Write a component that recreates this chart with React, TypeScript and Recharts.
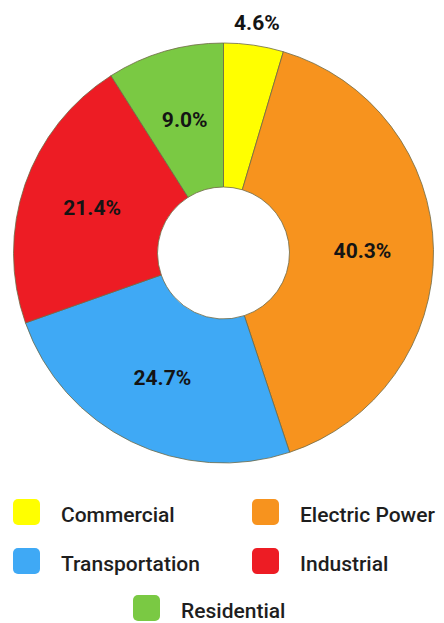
import { PieChart, Pie, Cell, Legend } from "recharts";

const SECTORS = ["Commercial", "Electric Power", "Transportation", "Industrial", "Residential"];
const SHARES = [4.6, 40.3, 24.7, 21.4, 9.0];
const COLORS = ["#FFFF00", "#F7931E", "#3FA9F5", "#ED1C24", "#7AC943"];

const data = SECTORS.map((name, i) => ({ name, value: SHARES[i] }));

const RAD = Math.PI / 180;
const FONT = "Roboto, 'Noto Sans', sans-serif";

function renderLabel(props: any) {
  const { cx, cy, midAngle, value } = props;
  // small slices get their label outside the ring
  const r = value < 5 ? 232 : 139;
  const x = cx + r * Math.cos(-midAngle * RAD);
  const y = cy + r * Math.sin(-midAngle * RAD);
  return (
    <text
      x={x}
      y={y}
      textAnchor="middle"
      dominantBaseline="central"
      fill="#141414"
      style={{ fontFamily: FONT, fontSize: 21, fontWeight: 700 }}
    >
      {value.toFixed(1)}%
    </text>
  );
}

const legendPos = [
  { left: 13, top: 497 },
  { left: 252, top: 497 },
  { left: 13, top: 546 },
  { left: 252, top: 546 },
  { left: 133, top: 593 },
];

function renderLegend() {
  return (
    <div style={{ position: "relative", width: 444, height: 140 }}>
      {SECTORS.map((name, i) => (
        <div
          key={name}
          style={{
            position: "absolute",
            left: legendPos[i].left,
            top: legendPos[i].top - 490,
            display: "flex",
            alignItems: "center",
          }}
        >
          <div
            style={{
              width: 27,
              height: 26,
              borderRadius: 5,
              background: COLORS[i],
            }}
          />
          <span
            style={{
              marginLeft: 21,
              marginTop: 6,
              fontFamily: FONT,
              fontSize: 21,
              fontWeight: 500,
              color: "#1e1e1e",
              whiteSpace: "nowrap",
            }}
          >
            {name}
          </span>
        </div>
      ))}
    </div>
  );
}

export default function App() {
  return (
    <div style={{ position: "absolute", left: 0, top: 0, width: 444, height: 623, background: "#fff" }}>
      <PieChart width={444} height={623} margin={{ top: 0, right: 0, bottom: 0, left: 0 }}>
        <Pie
          data={data}
          dataKey="value"
          nameKey="name"
          cx={223.5}
          cy={253}
          innerRadius={66}
          outerRadius={210}
          startAngle={90}
          endAngle={-270}
          stroke="#6e6a45"
          strokeWidth={0.8}
          label={renderLabel}
          labelLine={false}
          isAnimationActive={false}
        >
          {data.map((_, i) => (
            <Cell key={i} fill={COLORS[i]} />
          ))}
        </Pie>
        <Legend
          content={renderLegend}
          wrapperStyle={{ position: "absolute", left: 0, top: 490, width: 444, height: 140 }}
        />
      </PieChart>
    </div>
  );
}
